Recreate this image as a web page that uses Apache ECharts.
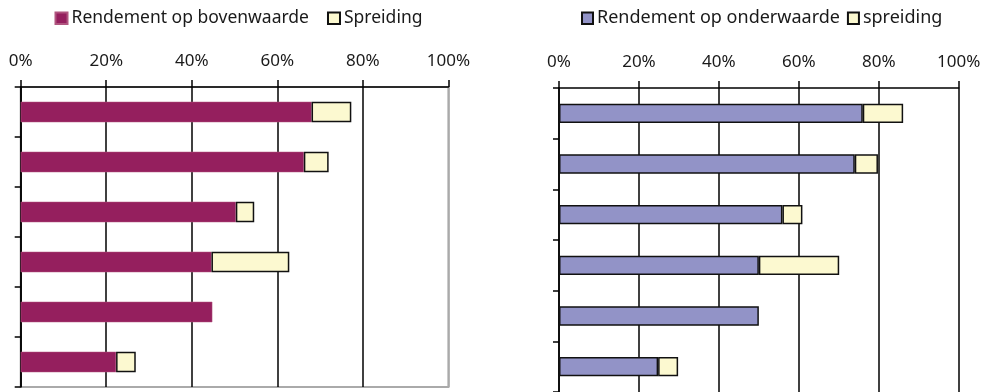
<!DOCTYPE html>
<html>
<head>
<meta charset="utf-8">
<script src="https://cdn.jsdelivr.net/npm/echarts@6/dist/echarts.min.js"></script>
<style>
  html, body { margin: 0; padding: 0; background: #fff; }
  #chart { width: 988px; height: 392px; }
</style>
</head>
<body>
<div id="chart"></div>
<script>
// Six unlabelled categories, top to bottom
const categories = ['1', '2', '3', '4', '5', '6'];

// Left panel: return on upper value, plus spread on top of it (%)
const bovenwaarde = [68, 66.2, 50.3, 44.6, 44.8, 22.3];
const bovenSpreiding = [9.3, 5.8, 4.3, 18.2, null, 4.6];

// Right panel: return on lower value, plus spread on top of it (%)
const onderwaarde = [76, 74, 55.9, 50, 50, 24.8];
const onderSpreiding = [10.1, 5.8, 5, 20.1, null, 5];

// Axis ticks
const tickMin = 0, tickMax = 100, tickStep = 20;

const FONT = 'Noto Sans';
const chart = echarts.init(document.getElementById('chart'), null, { renderer: 'canvas' });

function xAxisFor(gridIndex, splitColors) {
  return {
    type: 'value', gridIndex, position: 'top',
    min: tickMin, max: tickMax, interval: tickStep,
    axisLine: { show: true, lineStyle: { color: '#000', width: 1.5 } },
    axisTick: { show: true, length: 7, lineStyle: { color: '#000', width: 1.5 } },
    axisLabel: { formatter: '{value}%', color: '#1a1a1a', fontFamily: FONT, fontSize: 17, margin: 17 },
    splitLine: { show: true, lineStyle: { color: splitColors, width: 1.5 } }
  };
}
function yAxisFor(gridIndex) {
  return {
    type: 'category', gridIndex, inverse: true, data: categories,
    axisLine: { show: true, lineStyle: { color: '#000', width: 1.5 } },
    axisTick: { show: true, length: 6, lineStyle: { color: '#000', width: 1.5 } },
    axisLabel: { show: false },
    splitLine: { show: false }
  };
}

function legendText(size) {
  return { fontFamily: FONT, fontSize: size, lineHeight: 22, color: '#1a1a1a', padding: [0, 0, 0, -1] };
}

chart.setOption({
  animation: false,
  backgroundColor: '#fff',
  legend: [
    {
      left: 54.5, top: 7.3, padding: 0, itemWidth: 12, itemHeight: 11.5, itemGap: 18,
      icon: 'rect', textStyle: legendText(17.5),
      data: ['Rendement op bovenwaarde', 'Spreiding']
    },
    {
      left: 581, top: 7.3, padding: 0, itemWidth: 11, itemHeight: 11.5, itemGap: 7,
      icon: 'rect', textStyle: legendText(18),
      data: ['Rendement op onderwaarde', 'spreiding']
    }
  ],
  grid: [
    { left: 20.7, top: 87, width: 427.7, height: 300, show: true, borderColor: '#aaa', borderWidth: 2, backgroundColor: 'transparent' },
    { left: 559, top: 88, width: 399.7, height: 304 }
  ],
  xAxis: [
    xAxisFor(0, ['#000', '#000', '#000', '#000', '#000', '#aaa']),
    xAxisFor(1, '#000')
  ],
  yAxis: [yAxisFor(0), yAxisFor(1)],
  series: [
    {
      name: 'Rendement op bovenwaarde', type: 'bar', stack: 'l',
      xAxisIndex: 0, yAxisIndex: 0, barWidth: '41%',
      itemStyle: { color: '#951f5e', borderColor: '#b0557f', borderWidth: 0.5 },
      data: bovenwaarde
    },
    {
      name: 'Spreiding', type: 'bar', stack: 'l',
      xAxisIndex: 0, yAxisIndex: 0, barWidth: '41%',
      itemStyle: { color: '#fcf9d0', borderColor: '#111', borderWidth: 1.5 },
      data: bovenSpreiding
    },
    {
      name: 'Rendement op onderwaarde', type: 'bar', stack: 'r',
      xAxisIndex: 1, yAxisIndex: 1, barWidth: '38%',
      itemStyle: { color: '#9293c7', borderColor: '#111', borderWidth: 1.5 },
      data: onderwaarde
    },
    {
      name: 'spreiding', type: 'bar', stack: 'r',
      xAxisIndex: 1, yAxisIndex: 1, barWidth: '38%',
      itemStyle: { color: '#fcf9d0', borderColor: '#111', borderWidth: 1.5 },
      data: onderSpreiding
    }
  ]
});
</script>
</body>
</html>
